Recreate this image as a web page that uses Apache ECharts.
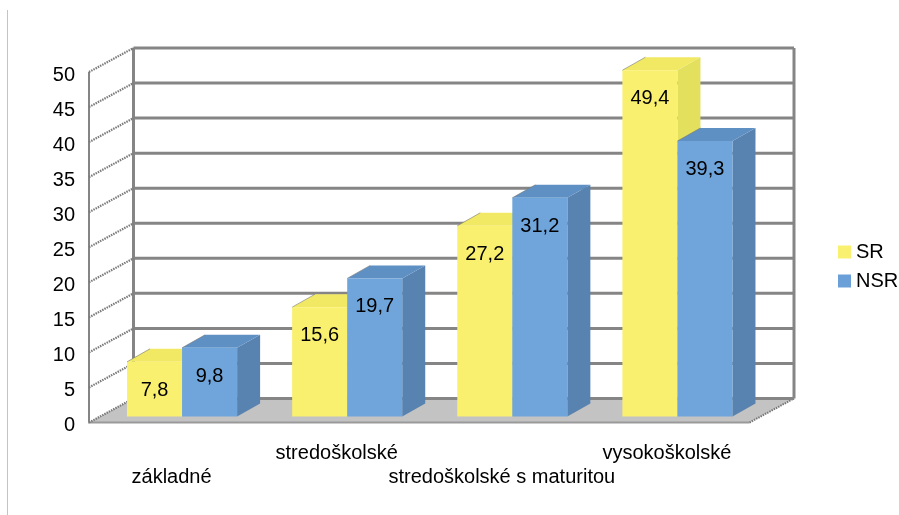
<!DOCTYPE html>
<html>
<head>
<meta charset="utf-8">
<style>html,body{margin:0;padding:0;background:#fff}#c{width:899px;height:515px}</style>
<script src="https://cdn.jsdelivr.net/npm/echarts@6/dist/echarts.min.js"></script>
</head>
<body>
<div id="c"></div>
<script>
const categories = ['základné', 'stredoškolské', 'stredoškolské s maturitou', 'vysokoškolské'];
const seriesSR = [7.8, 15.6, 27.2, 49.4];
const seriesNSR = [9.8, 19.7, 31.2, 39.3];
const yTicks = [0, 5, 10, 15, 20, 25, 30, 35, 40, 45, 50];

const FONT = '"Liberation Sans", Arial, sans-serif';
const WALL_DX = 44.5, WALL_DY = -24;
const BAR_INSET_X = 10.5, BAR_INSET_Y = -6, BAR_DX = 23, BAR_DY = -13;
const WALL = '#858585';

function poly(points, fill) {
  return { type: 'polygon', shape: { points }, style: { fill, stroke: null } };
}
function line(x1, y1, x2, y2, stroke, lineWidth, lineDash) {
  return { type: 'line', shape: { x1, y1, x2, y2 }, style: { stroke, lineWidth, lineDash: lineDash || null, fill: null } };
}

function renderWalls(params, api) {
  const cs = params.coordSys;
  const x0 = cs.x, x1 = cs.x + cs.width;
  const y = api.coord([0, api.value(1)])[1];
  const i = params.dataIndex;
  const top = api.coord([0, yTicks[yTicks.length - 1]])[1];
  const bottom = api.coord([0, 0])[1];
  const ch = [];
  if (i === 0) {
    ch.push(poly([[x0, bottom], [x1, bottom], [x1 + WALL_DX, bottom + WALL_DY], [x0 + WALL_DX, bottom + WALL_DY]], '#c3c3c3'));
    ch.push(line(x0 + WALL_DX, top + WALL_DY, x0 + WALL_DX, bottom + WALL_DY, WALL, 3));
    ch.push(line(x1 + WALL_DX, top + WALL_DY, x1 + WALL_DX, bottom + WALL_DY, WALL, 3));
    ch.push(line(x0, top, x0, bottom, WALL, 2));
    ch.push(line(x0 - 1, bottom, x1, bottom, '#9a9a9a', 2));
    ch.push(line(x1, bottom, x1 + WALL_DX, bottom + WALL_DY, '#777777', 2, [1.5, 1]));
  }
  ch.push(line(x0 + WALL_DX, y + WALL_DY, x1 + WALL_DX, y + WALL_DY, WALL, 3));
  ch.push(line(x0, y, x0 + WALL_DX, y + WALL_DY, '#7a7a7a', 2.2, [1.5, 1]));
  return { type: 'group', children: ch };
}

function makeBarRenderer(pos, front, top, side) {
  return function (params, api) {
    const band = api.size([1, 0])[0];
    const w = band / 3;
    const cx = api.coord([api.value(0), 0])[0];
    const val = api.value(1);
    const xa = cx + BAR_INSET_X - w + pos * w;
    const xb = xa + w;
    const yb = api.coord([0, 0])[1] + BAR_INSET_Y;
    const yt = api.coord([0, val])[1] + BAR_INSET_Y;
    return {
      type: 'group',
      children: [
        poly([[xb, yb], [xb + BAR_DX, yb + BAR_DY], [xb + BAR_DX, yt + BAR_DY], [xb, yt]], side),
        poly([[xa, yt], [xb, yt], [xb + BAR_DX, yt + BAR_DY], [xa + BAR_DX, yt + BAR_DY]], top),
        poly([[xa, yb], [xb, yb], [xb, yt], [xa, yt]], front),
        line(xa, yt, xa + BAR_DX, yt + BAR_DY, '#77777799', 1),
        {
          type: 'text',
          style: {
            text: String(val).replace('.', ','),
            x: xa + w / 2, y: yt + 28.5,
            align: 'center', verticalAlign: 'middle',
            font: '20px ' + FONT, fill: '#000'
          }
        }
      ]
    };
  };
}

const chart = echarts.init(document.getElementById('c'));
chart.setOption({
  animation: false,
  backgroundColor: '#fff',
  grid: { left: 89, top: 72, width: 660.5, height: 350.5 },
  xAxis: {
    type: 'category',
    data: categories,
    axisLine: { show: false },
    axisTick: { show: false },
    splitLine: { show: false },
    axisLabel: {
      interval: 0,
      margin: 19,
      color: '#000',
      fontFamily: FONT,
      fontSize: 20,
      lineHeight: 24,
      hideOverlap: false,
      overflow: 'none',
      formatter: (v, i) => (i % 2 === 0 ? '\n' + v : v + '\n')
    }
  },
  yAxis: {
    type: 'value',
    min: 0,
    max: 50,
    interval: 5,
    axisLine: { show: false },
    axisTick: { show: false },
    splitLine: { show: false },
    axisLabel: { margin: 14, color: '#000', fontFamily: FONT, fontSize: 20, verticalAlign: 'top', lineHeight: 6 }
  },
  legend: {
    data: ['SR', 'NSR'],
    orient: 'vertical',
    left: 833,
    top: 237,
    itemWidth: 13,
    itemHeight: 13,
    itemGap: 9,
    icon: 'rect',
    selectedMode: false,
    textStyle: { color: '#000', fontFamily: FONT, fontSize: 20 }
  },
  graphic: [{
    type: 'line',
    shape: { x1: 7.5, y1: 10, x2: 7.5, y2: 515 },
    style: { stroke: '#c4c4c4', lineWidth: 1 },
    silent: true
  }],
  series: [
    {
      name: 'walls', type: 'custom', silent: true, z: 1,
      data: yTicks.map(t => [0, t]),
      renderItem: renderWalls
    },
    {
      name: 'SR', type: 'custom', z: 2,
      itemStyle: { color: '#faf070' },
      data: seriesSR.map((v, i) => [i, v]),
      encode: { x: 0, y: 1 },
      renderItem: makeBarRenderer(0, '#faf070', '#f1e963', '#e2e05c')
    },
    {
      name: 'NSR', type: 'custom', z: 3,
      itemStyle: { color: '#6a9fd8' },
      data: seriesNSR.map((v, i) => [i, v]),
      encode: { x: 0, y: 1 },
      renderItem: makeBarRenderer(1, '#6fa5db', '#5f90c3', '#5882b0')
    }
  ]
});
</script>
</body>
</html>
